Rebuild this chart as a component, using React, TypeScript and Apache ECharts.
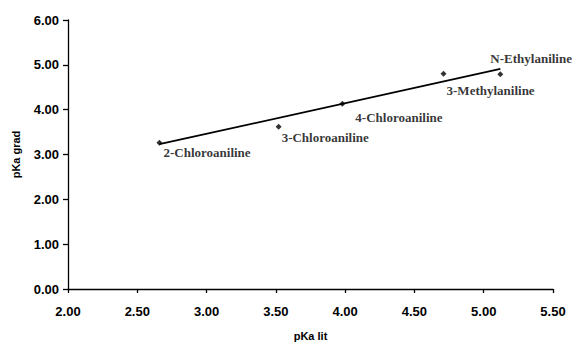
import React, { useEffect, useRef } from "react";
import * as echarts from "echarts";

const compounds = ["2-Chloroaniline", "3-Chloroaniline", "4-Chloroaniline", "3-Methylaniline", "N-Ethylaniline"];
const pKaLit = [2.66, 3.52, 3.98, 4.71, 5.12];
const pKaGrad = [3.26, 3.62, 4.13, 4.8, 4.79];
const trendX = [2.66, 5.12];
const trendY = [3.23, 4.91];
const labelOffsets: number[][] = [[4, 10], [3, 11], [13, 14], [3, 17], [-10, -16]];

export default function App() {
  const ref = useRef<HTMLDivElement>(null);
  useEffect(() => {
    const chart = echarts.init(ref.current!, null, { renderer: "svg" });
    const axisLabel = { color: "#000", fontFamily: "Liberation Sans, Arial, sans-serif", fontWeight: "bold" as const, fontSize: 13 };
    chart.setOption({
      animation: false,
      backgroundColor: "#fff",
      grid: { left: 68, right: 32, top: 20, bottom: 53, outerBoundsMode: "none", containLabel: false },
      xAxis: {
        type: "value",
        min: 2,
        max: 5.5,
        interval: 0.5,
        name: "pKa lit",
        nameLocation: "middle",
        nameGap: 41,
        nameTextStyle: { ...axisLabel, fontSize: 11 },
        axisLine: { onZero: false, lineStyle: { color: "#000", width: 1.3 } },
        axisTick: { show: true, length: 4, inside: false, lineStyle: { color: "#000", width: 1.3 } },
        axisLabel: { ...axisLabel, margin: 16, formatter: (v: number) => v.toFixed(2) },
        splitLine: { show: false },
      },
      yAxis: {
        type: "value",
        min: 0,
        max: 6,
        interval: 1,
        name: "pKa grad",
        nameLocation: "middle",
        nameGap: 47,
        nameRotate: 90,
        nameTextStyle: { ...axisLabel, fontSize: 11 },
        axisLine: { show: true, lineStyle: { color: "#000", width: 1.3 } },
        axisTick: { show: true, length: 5, lineStyle: { color: "#000", width: 1.3 } },
        axisLabel: { ...axisLabel, margin: 9, formatter: (v: number) => v.toFixed(2) },
        splitLine: { show: false },
      },
      series: [
        {
          type: "line",
          data: trendX.map((x, i) => [x, trendY[i]]),
          showSymbol: false,
          symbol: "none",
          lineStyle: { color: "#000", width: 1.8 },
          z: 2,
        },
        {
          type: "scatter",
          symbol: "diamond",
          symbolSize: 6,
          itemStyle: { color: "#000" },
          z: 3,
          data: pKaLit.map((x, i) => ({
            value: [x, pKaGrad[i]],
            label: {
              show: true,
              formatter: compounds[i],
              position: "inside",
              align: "left",
              verticalAlign: "middle",
              offset: labelOffsets[i],
              color: "#000",
              fontFamily: "Liberation Serif, Times New Roman, serif",
              fontWeight: "bold",
              fontSize: 13,
            },
          })),
        },
      ],
    });
    return () => chart.dispose();
  }, []);
  return <div ref={ref} style={{ width: 585, height: 342, position: "absolute", left: 0, top: 0 }} />;
}
